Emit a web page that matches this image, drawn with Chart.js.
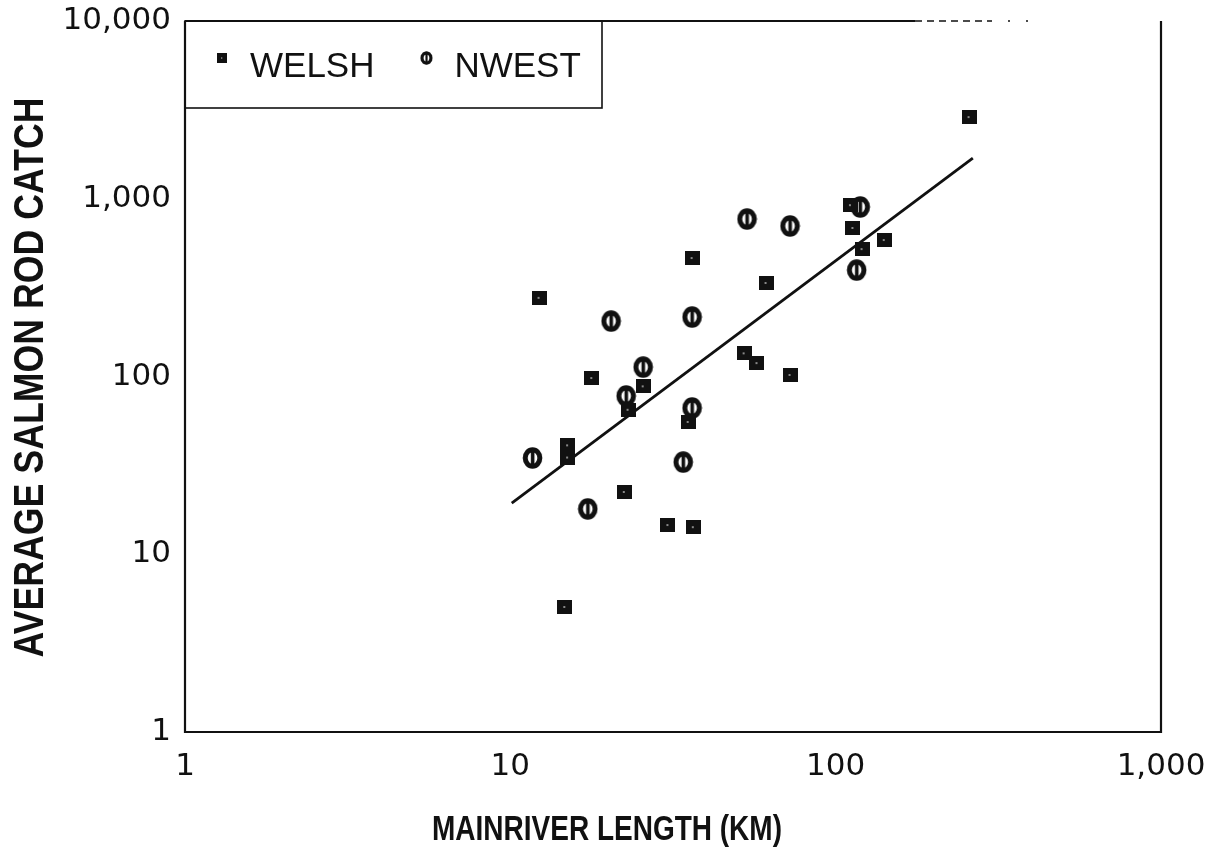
<!DOCTYPE html>
<html>
<head>
<meta charset="utf-8">
<script src="https://cdn.jsdelivr.net/npm/chart.js@4.4.1/dist/chart.umd.min.js"></script>
<style>
  html, body { margin: 0; padding: 0; background: #ffffff; }
  #wrap { width: 1222px; height: 856px; position: relative; }
</style>
</head>
<body>
<div id="wrap"><canvas id="c"></canvas></div>
<script>
// River length (km) against average salmon rod catch, two regions
const seriesNames = ['WELSH', 'NWEST'];

const welshLength = [257, 111, 113, 120.5, 141, 36.2, 61.1, 12.25, 52.3, 57.3, 72.4, 17.8, 25.6, 23.0, 35.2, 15.0, 15.0, 22.4, 30.5, 36.5, 14.7];
const welshCatch  = [2880, 920, 685, 521, 586, 464, 336, 277, 135, 119, 102, 98, 88, 65, 55.5, 41, 35, 22.4, 14.6, 14.2, 5.05];

const nwestLength = [119, 53.4, 72.4, 116, 20.4, 36.2, 25.6, 22.7, 36.2, 11.7, 34.0, 17.3];
const nwestCatch  = [899, 769, 703, 397, 205, 216, 113, 77.7, 66.5, 34.8, 33.0, 18.0];

// fitted trend line end points
const fitLength = [10.1, 264];
const fitCatch  = [19.4, 1695];

const xTickValues = [1, 10, 100, 1000];
const yTickValues = [1, 10, 100, 1000, 10000];

const xTitle = 'MAINRIVER LENGTH (KM)';
const yTitle = 'AVERAGE SALMON ROD CATCH';

const INK = '#111111';
const tickFont = { family: '"DejaVu Sans", sans-serif', size: 31 };
const titleFont = '"Liberation Sans", Arial, sans-serif';

// marker glyphs
function squareMarker() {
  const c = document.createElement('canvas');
  c.width = 15; c.height = 14;
  const g = c.getContext('2d');
  g.fillStyle = INK;
  g.fillRect(0, 0, 15, 14);
  g.fillStyle = 'rgba(255,255,255,0.5)';
  g.fillRect(6, 6, 2, 2);
  return c;
}
function splitCircleMarker() {
  const c = document.createElement('canvas');
  c.width = 21; c.height = 22;
  const g = c.getContext('2d');
  g.strokeStyle = INK;
  g.lineWidth = 5;
  g.beginPath();
  g.ellipse(10.5, 11, 7.3, 8.2, 0, 0, Math.PI * 2);
  g.stroke();
  g.fillStyle = INK;
  g.fillRect(8.8, 1, 3.6, 20);
  return c;
}
const welshMark = squareMarker();
const nwestMark = splitCircleMarker();

const toPoints = (xs, ys) => xs.map((x, i) => ({ x: x, y: ys[i] }));

// plot frame (top edge fades out toward the right) plus boxed legend
const framePlugin = {
  id: 'frame',
  afterDatasetsDraw(chart) {
    const { ctx, chartArea: a } = chart;
    ctx.save();
    ctx.strokeStyle = INK;
    ctx.lineWidth = 2.2;
    ctx.beginPath();
    ctx.moveTo(a.left, a.top);
    ctx.lineTo(a.left, a.bottom);
    ctx.lineTo(a.right, a.bottom);
    ctx.lineTo(a.right, a.top);
    ctx.moveTo(a.left, a.top);
    ctx.lineTo(a.left + 730, a.top);
    ctx.stroke();
    ctx.lineWidth = 1.6;
    ctx.setLineDash([7, 5]);
    ctx.beginPath();
    ctx.moveTo(a.left + 730, a.top);
    ctx.lineTo(a.left + 805, a.top);
    ctx.stroke();
    ctx.setLineDash([2, 16]);
    ctx.beginPath();
    ctx.moveTo(a.left + 805, a.top);
    ctx.lineTo(a.left + 855, a.top);
    ctx.stroke();
    ctx.setLineDash([]);

    // legend box
    const lx = a.left, ly = a.top, lw = 417, lh = 87;
    ctx.lineWidth = 1.6;
    ctx.strokeRect(lx, ly, lw, lh);
    ctx.font = '35px "Liberation Sans", Arial, sans-serif';
    ctx.fillStyle = INK;
    ctx.textBaseline = 'middle';
    const cy = ly + 46;
    const sets = chart.data.datasets.filter(d => seriesNames.includes(d.label));
    let x = lx + 37;
    sets.forEach((d, i) => {
      const img = d.pointStyle;
      const s = i === 0 ? 0.7 : 0.62;
      const w = img.width * s, h = img.height * s;
      ctx.drawImage(img, x - w / 2, cy - 9 - h / 2, w, h);
      ctx.fillText(d.label, x + 28, cy);
      x += 28 + ctx.measureText(d.label).width + 52;
    });
    ctx.restore();
  }
};

// axis titles in a condensed bold face
const titlePlugin = {
  id: 'axisTitles',
  afterDraw(chart) {
    const { ctx, chartArea: a } = chart;
    ctx.save();
    ctx.fillStyle = INK;
    ctx.textAlign = 'center';
    ctx.textBaseline = 'middle';

    ctx.save();
    ctx.font = 'bold 35px ' + titleFont;
    ctx.translate(chart.width / 2 - 4, 830);
    ctx.scale(0.8, 1);
    ctx.fillText(xTitle, 0, 0);
    ctx.restore();

    ctx.save();
    ctx.font = 'bold 42px ' + titleFont;
    ctx.translate(31, (a.top + a.bottom) / 2 + 1);
    ctx.rotate(-Math.PI / 2);
    ctx.scale(0.85, 1);
    ctx.fillText(yTitle, 0, 0);
    ctx.restore();

    ctx.restore();
  }
};

const fmt = v => Number(v).toLocaleString('en-US');

new Chart(document.getElementById('c'), {
  type: 'scatter',
  data: {
    datasets: [
      {
        label: 'WELSH',
        data: toPoints(welshLength, welshCatch),
        pointStyle: welshMark,
        pointRadius: 7,
        backgroundColor: INK,
        borderColor: INK
      },
      {
        label: 'NWEST',
        data: toPoints(nwestLength, nwestCatch),
        pointStyle: nwestMark,
        pointRadius: 9,
        backgroundColor: INK,
        borderColor: INK
      },
      {
        label: 'fit',
        type: 'line',
        data: toPoints(fitLength, fitCatch),
        borderColor: INK,
        borderWidth: 2.8,
        pointRadius: 0,
        fill: false
      }
    ]
  },
  plugins: [framePlugin, titlePlugin],
  options: {
    responsive: true,
    maintainAspectRatio: false,
    animation: false,
    events: [],
    layout: { padding: { top: 21, right: 61, left: 0, bottom: 0 } },
    plugins: {
      legend: { display: false },
      tooltip: { enabled: false },
      title: { display: false }
    },
    scales: {
      x: {
        type: 'logarithmic',
        min: 1,
        max: 1000,
        grid: { display: false, drawTicks: false },
        border: { display: false },
        afterBuildTicks: s => { s.ticks = xTickValues.map(v => ({ value: v })); },
        afterFit: s => { s.height = 124; s.paddingLeft = 0; s.paddingRight = 0; },
        ticks: {
          color: INK,
          font: tickFont,
          padding: 16,
          maxRotation: 0,
          autoSkip: false,
          callback: v => fmt(v)
        }
      },
      y: {
        type: 'logarithmic',
        min: 1,
        max: 10000,
        grid: { display: false, drawTicks: false },
        border: { display: false },
        afterBuildTicks: s => { s.ticks = yTickValues.map(v => ({ value: v })); },
        afterFit: s => { s.width = 185; s.paddingTop = 0; s.paddingBottom = 0; },
        ticks: {
          color: INK,
          font: tickFont,
          padding: 14,
          autoSkip: false,
          callback: v => fmt(v)
        }
      }
    }
  }
});
</script>
</body>
</html>
